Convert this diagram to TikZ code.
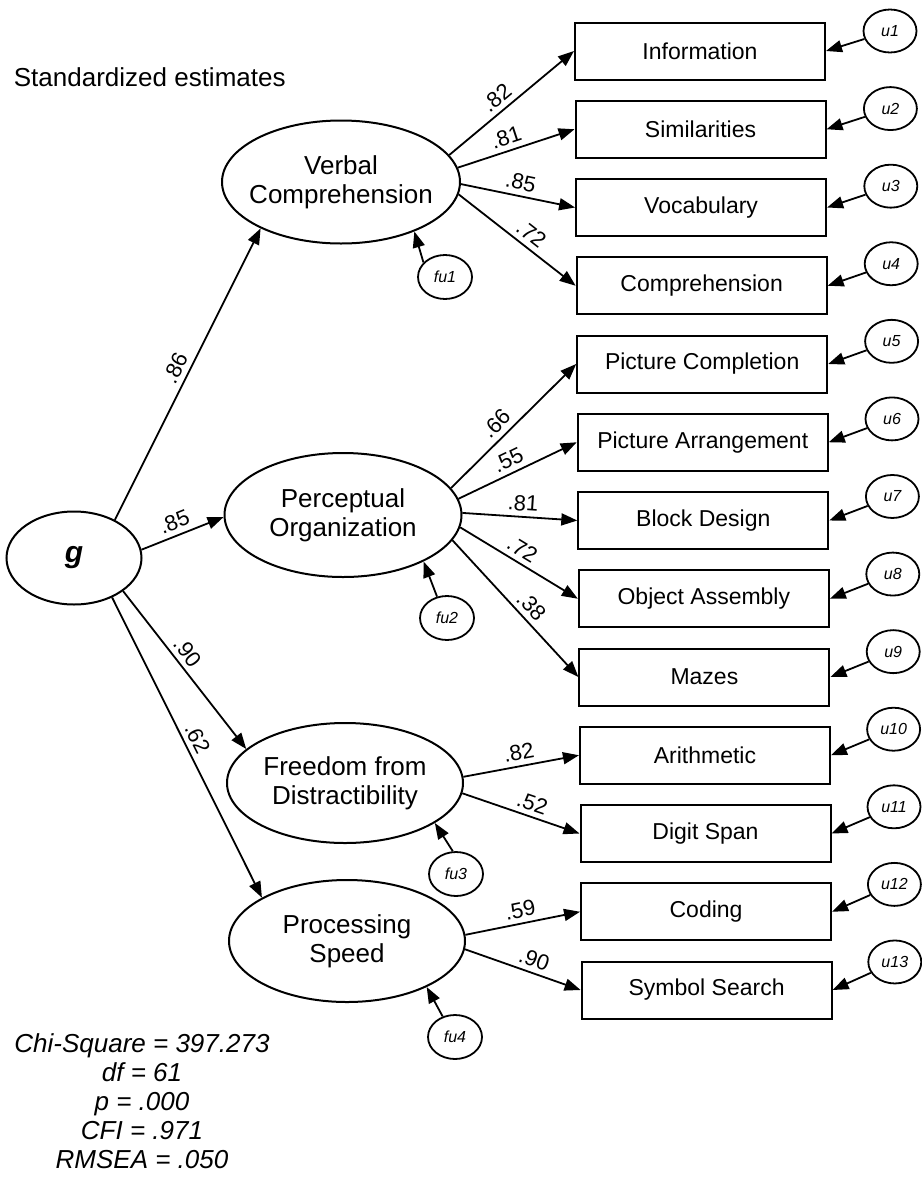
\documentclass[tikz,border=0pt]{standalone}
\usepackage{fontspec}
\setmainfont{Liberation Sans}
\usetikzlibrary{shapes.geometric,arrows.meta}

\begin{document}
\begin{tikzpicture}[x=1pt,y=1pt,
  line width=1.8pt,
  regr/.style={-{Triangle[length=16pt,width=12pt]}},
  latent/.style={draw, ellipse, line width=2pt, inner sep=0pt},
  lattext/.style={align=center, inner sep=0pt, font=\fontsize{26}{29}\selectfont},
  obs/.style={draw, rectangle, line width=2pt, minimum width=250pt, minimum height=57pt, inner sep=0pt, font=\fontsize{23}{27}\selectfont},
  err/.style={draw, ellipse, line width=1.8pt, minimum width=54pt, minimum height=44pt, inner sep=0pt, font=\fontsize{16}{19}\selectfont\itshape},
  load/.style={sloped, above, inner sep=5pt, font=\fontsize{22}{26}\selectfont},
  fitline/.style={anchor=base, font=\fontsize{26}{29}\selectfont\itshape}
]
\useasboundingbox (0,0) rectangle (921,-1178);
\fill[white] (0,0) rectangle (921,-1178);

% heading
\node[anchor=base west, inner sep=0pt, font=\fontsize{26}{30}\selectfont] (title) at (13,-86) {Standardized estimates};

% latent factors
\node[latent, minimum width=135pt, minimum height=93pt, font=\fontsize{30}{30}\selectfont\bfseries\itshape] (g) at (74,-558) {g};
\node[latent, minimum width=238pt, minimum height=123pt] (vc) at (341,-182) {};
\node[latent, minimum width=237pt, minimum height=124pt] (po) at (343,-515) {};
\node[latent, minimum width=236pt, minimum height=120pt] (fd) at (345,-783) {};
\node[latent, minimum width=236pt, minimum height=122pt] (ps) at (347,-941) {};
\node[lattext] (vct) at (vc) {Verbal\\Comprehension};
\node[lattext] (pot) at (po) {Perceptual\\Organization};
\node[lattext] (fdt) at (fd) {Freedom from\\Distractibility};
\node[lattext] (pst) at (ps) {Processing\\Speed};

% factor disturbances
\node[err] (fu1) at (445,-277) {fu1};
\node[err] (fu2) at (447,-618) {fu2};
\node[err] (fu3) at (456,-874) {fu3};
\node[err] (fu4) at (455,-1037) {fu4};
\draw[regr] (fu1.146) -- (vc.-34);
\draw[regr] (fu2.115) -- (po.-30);
\draw[regr] (fu3.98) -- (fd.-24);
\draw[regr] (fu4.121) -- (ps.-30);

% subtests with their unique terms
\foreach \i/\t in {1/Information, 2/Similarities, 3/Vocabulary, 4/Comprehension,
  5/Picture Completion, 6/Picture Arrangement, 7/Block Design, 8/Object Assembly,
  9/Mazes, 10/Arithmetic, 11/Digit Span, 12/Coding, 13/Symbol Search} {
  \node[obs] (b\i) at ({700+0.55*(\i-1)},{-51-78.25*(\i-1)}) {\t};
  \node[err, minimum width=53pt, minimum height=43pt] (u\i) at ({890+0.4*(\i-1)},{-31-77.58*(\i-1)}) {u\i};
  \draw[regr] (u\i) -- (b\i.east);
}

% second-order loadings
\draw[regr] (g.43) -- node[load, pos=.5] {.86} (vc.210);
\draw[regr] (g.7) -- node[load, pos=.46] {.85} (po.181);
\draw[regr] (g.-34) -- node[load, pos=.44] {.90} (fd.161);
\draw[regr] (g.-46) -- node[load, pos=.49] {.62} (ps.153);

% first-order loadings
\draw[regr] (vc.14) -- node[load, pos=.45] {.82} (b1.west);
\draw[regr] (vc.7) -- node[load, pos=.45] {.81} (b2.west);
\draw[regr] (vc.-1) -- node[load, pos=.5] {.85} (b3.west);
\draw[regr] (vc.-6) -- node[load, pos=.55] {.72} (b4.west);

\draw[regr] (po.14) -- node[load, pos=.44] {.66} (b5.west);
\draw[regr] (po.8) -- node[load, pos=.47] {.55} (b6.west);
\draw[regr] (po.1) -- node[load, pos=.52] {.81} (b7.west);
\draw[regr] (po.-6) -- node[load, pos=.47] {.72} (b8.west);
\draw[regr] (po.-13) -- node[load, pos=.55] {.38} (b9.west);

\draw[regr] (fd.3) -- node[load, pos=.5] {.82} (b10.west);
\draw[regr] (fd.-5) -- node[load, pos=.56] {.52} (b11.west);

\draw[regr] (ps.3) -- node[load, pos=.5] {.59} (b12.west);
\draw[regr] (ps.-4) -- node[load, pos=.56] {.90} (b13.west);

% fit statistics
\node[fitline] (chi) at (142,-1052) {Chi-Square = 397.273};
\node[fitline] (df) at (142,-1081) {df = 61};
\node[fitline] (pv) at (142,-1110) {p = .000};
\node[fitline] (cfi) at (142,-1139) {CFI = .971};
\node[fitline] (rmsea) at (142,-1168) {RMSEA = .050};
\end{tikzpicture}
\end{document}
